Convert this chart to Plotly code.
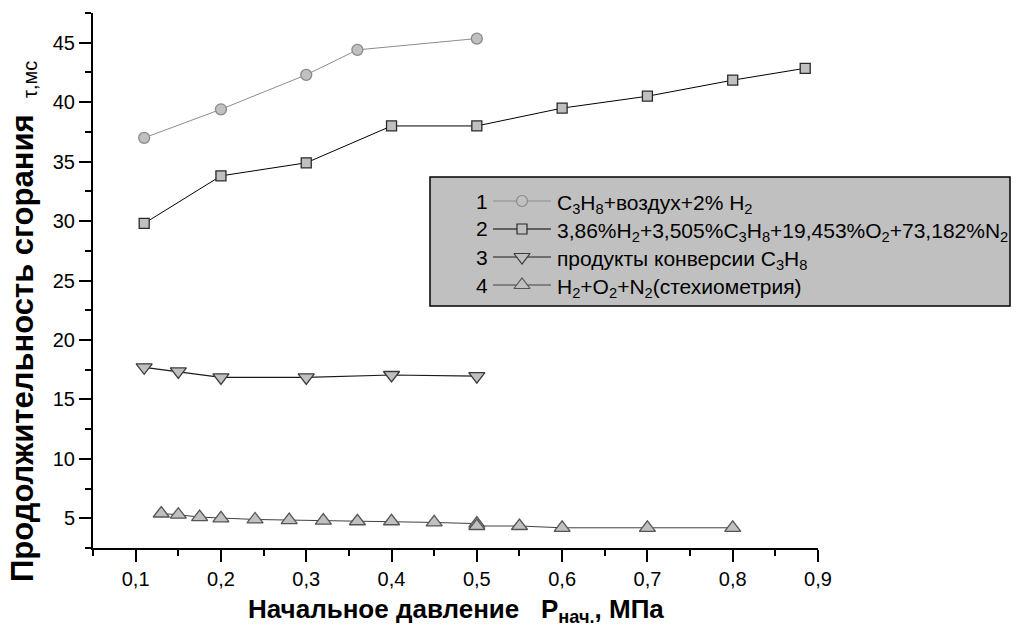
import plotly.graph_objects as go

# ---- data ----
x1 = [0.11, 0.2, 0.3, 0.36, 0.5]
y1 = [37.0, 39.4, 42.3, 44.4, 45.35]

x2 = [0.11, 0.2, 0.3, 0.4, 0.5, 0.6, 0.7, 0.8, 0.885]
y2 = [29.8, 33.8, 34.9, 38.0, 38.0, 39.5, 40.5, 41.85, 42.85]

x3 = [0.11, 0.15, 0.2, 0.3, 0.4, 0.5]
y3 = [17.7, 17.35, 16.85, 16.85, 17.05, 16.95]

x4 = [0.13, 0.15, 0.175, 0.2, 0.24, 0.28, 0.32, 0.36, 0.4, 0.45, 0.5, 0.5, 0.55, 0.6, 0.7, 0.8]
y4 = [5.4, 5.3, 5.1, 5.0, 4.9, 4.85, 4.8, 4.75, 4.75, 4.65, 4.55, 4.35, 4.35, 4.2, 4.2, 4.2]

x_ticks = [0.1, 0.2, 0.3, 0.4, 0.5, 0.6, 0.7, 0.8, 0.9]
y_ticks = [5, 10, 15, 20, 25, 30, 35, 40, 45]

legend_labels = [
    "C<sub>3</sub>H<sub>8</sub>+воздух+2% H<sub>2</sub>",
    "3,86%H<sub>2</sub>+3,505%C<sub>3</sub>H<sub>8</sub>+19,453%O<sub>2</sub>+73,182%N<sub>2</sub>",
    "продукты конверсии C<sub>3</sub>H<sub>8</sub>",
    "H<sub>2</sub>+O<sub>2</sub>+N<sub>2</sub>(стехиометрия)",
]
legend_numbers = ["1", "2", "3", "4"]

# ---- styles ----
FONT = "Liberation Sans, Arial, sans-serif"
FILL = "#c0c0c0"
styles = [
    dict(symbol="circle", size=11, line_color="#8c8c8c", edge="#8a8a8a", lw=1.0),
    dict(symbol="square", size=10, line_color="#000000", edge="#2a2a2a", lw=1.0),
    dict(symbol="triangle-down", size=14, line_color="#1a1a1a", edge="#3a3a3a", lw=1.2),
    dict(symbol="triangle-up", size=14, line_color="#404040", edge="#555555", lw=1.0),
]
series = [(x1, y1), (x2, y2), (x3, y3), (x4, y4)]

fig = go.Figure()
for (xs, ys), st in zip(series, styles):
    fig.add_trace(go.Scatter(
        x=xs, y=ys, mode="lines+markers",
        line=dict(color=st["line_color"], width=st["lw"]),
        marker=dict(symbol=st["symbol"], size=st["size"], color=FILL,
                    line=dict(color=st["edge"], width=1.3)),
        showlegend=False, hoverinfo="skip", cliponaxis=False,
    ))

# ---- layout geometry (pixels) ----
W, H = 1020, 632
L, R, T, B = 93, 818, 13, 548


def px(x):
    return (x - L) / (R - L)


def py(y):
    return (B - y) / (B - T)


# ---- custom legend: samples on a pixel-like overlay axis ----
row_y = [201, 229, 257, 285]
for i, st in enumerate(styles):
    fig.add_trace(go.Scatter(
        x=[493, 551], y=[row_y[i], row_y[i]], mode="lines",
        line=dict(color=st["line_color"], width=1.2),
        xaxis="x2", yaxis="y2", showlegend=False, hoverinfo="skip",
    ))
    fig.add_trace(go.Scatter(
        x=[522], y=[row_y[i]], mode="markers",
        marker=dict(symbol=st["symbol"], size=st["size"], color=FILL,
                    line=dict(color=st["edge"], width=1.2)),
        xaxis="x2", yaxis="y2", showlegend=False, hoverinfo="skip",
    ))

shapes = [dict(type="rect", xref="paper", yref="paper", x0=px(430), x1=px(1010),
               y0=py(177), y1=py(306),
               fillcolor=FILL, line=dict(color="#000000", width=1.5), layer="below")]

annotations = []
for i in range(4):
    annotations.append(dict(xref="paper", yref="paper", x=px(490), y=py(row_y[i]),
                            text=legend_numbers[i],
                            showarrow=False, xanchor="right", yanchor="middle",
                            font=dict(family=FONT, size=21, color="#000")))
    annotations.append(dict(xref="paper", yref="paper", x=px(555), y=py(row_y[i] + 3),
                            text=legend_labels[i],
                            showarrow=False, xanchor="left", yanchor="middle",
                            font=dict(family=FONT, size=21, color="#000")))

# axis titles
annotations.append(dict(xref="paper", yref="paper", x=px(456), y=py(610),
                        text="<b>Начальное давление\u00a0\u00a0\u00a0P<sub>нач.</sub>, МПа</b>",
                        showarrow=False, xanchor="center", yanchor="middle",
                        font=dict(family=FONT, size=26, color="#000")))
annotations.append(dict(xref="paper", yref="paper", x=px(22), y=py(348),
                        text="<b>Продолжительность сгорания</b>", textangle=-90,
                        showarrow=False, xanchor="center", yanchor="middle",
                        font=dict(family=FONT, size=31, color="#000")))
annotations.append(dict(xref="paper", yref="paper", x=px(30), y=py(80),
                        text="τ,мс", textangle=-90,
                        showarrow=False, xanchor="center", yanchor="middle",
                        font=dict(family=FONT, size=20, color="#000")))

fig.update_layout(
    width=W, height=H,
    margin=dict(l=L, r=W - R, t=T, b=H - B, pad=0),
    paper_bgcolor="white", plot_bgcolor="white",
    separators=", ",
    font=dict(family=FONT, size=20, color="#000"),
    xaxis=dict(range=[0.05, 0.9], tickvals=x_ticks, tickformat=".1f",
               showline=True, linecolor="#000", linewidth=2,
               ticks="outside", ticklen=12, tickwidth=2, tickcolor="#000",
               minor=dict(dtick=0.05, tick0=0.05, ticks="outside", ticklen=6, tickwidth=2, tickcolor="#000"),
               showgrid=False, zeroline=False, tickfont=dict(family=FONT, size=20)),
    yaxis=dict(range=[2.5, 47.5], tickvals=y_ticks,
               showline=True, linecolor="#000", linewidth=2,
               ticks="outside", ticklen=12, tickwidth=2, tickcolor="#000",
               minor=dict(dtick=2.5, tick0=0, ticks="outside", ticklen=6, tickwidth=2, tickcolor="#000"),
               showgrid=False, zeroline=False, tickfont=dict(family=FONT, size=20)),
    xaxis2=dict(range=[L, R], overlaying="x", anchor="y2", visible=False, fixedrange=True),
    yaxis2=dict(range=[B, T], overlaying="y", anchor="x2", visible=False, fixedrange=True),
    shapes=shapes,
    annotations=annotations,
)

fig.write_html("out.html", config={"displayModeBar": False},
               post_script="document.body.style.margin='0';")
